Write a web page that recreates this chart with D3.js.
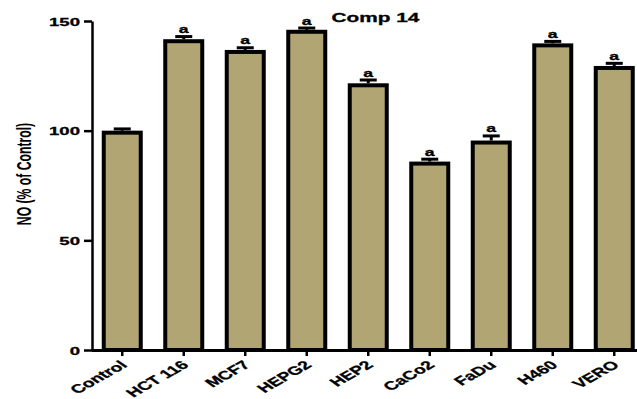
<!DOCTYPE html>
<html>
<head>
<meta charset="utf-8">
<script src="https://cdn.jsdelivr.net/npm/d3@7"></script>
<style>
  body { margin: 0; background: #fff; }
  svg { display: block; font-family: 'Liberation Sans', Arial, sans-serif; }
</style>
</head>
<body>
<script>
const categories = ['Control', 'HCT 116', 'MCF7', 'HEPG2', 'HEP2', 'CaCo2', 'FaDu', 'H460', 'VERO']
const values = [100, 141.7, 136.8, 146, 121.6, 85.9, 95.5, 139.8, 129.5]
const errors = [0.8, 1.2, 1, 0.8, 1.5, 1.1, 2.1, 0.9, 1.2]
const marks = ['', 'a', 'a', 'a', 'a', 'a', 'a', 'a', 'a']
const yTicks = [0, 50, 100, 150]

const width = 637, height = 399
const sx = 1.6  // the picture is stretched sideways, so is its text
const fill = '#b1a574'

const svg = d3.select('body')
  .append('svg')
  .attr('width', width)
  .attr('height', height)

const x = d3.scaleBand()
  .domain(categories)
  .range([91.5, 645])
  .paddingInner(1 / 3)
  .paddingOuter(1 / 6)

const y = d3.scaleLinear()
  .domain([0, 150])
  .range([350, 21])

const data = categories.map((c, i) => ({ c, v: values[i], e: errors[i], m: marks[i] }))

// bars
svg.append('g')
  .selectAll('rect').data(data).enter()
  .append('rect')
  .attr('x', d => x(d.c) + 2)
  .attr('y', d => y(d.v) + 2)
  .attr('width', x.bandwidth() - 4)
  .attr('height', d => y(0) - y(d.v) - 2)
  .attr('fill', fill)
  .attr('stroke', '#000')
  .attr('stroke-width', 4)

// error bars
const err = svg.append('g')
  .attr('stroke', '#000')
  .attr('stroke-width', 3)
  .selectAll('g').data(data).enter()
  .append('g')
  .attr('transform', d => `translate(${x(d.c) + x.bandwidth() / 2},0)`)

err.append('line')
  .attr('y1', d => y(d.v))
  .attr('y2', d => y(d.v + d.e))
err.append('line')
  .attr('x1', -8.5)
  .attr('x2', 8.5)
  .attr('y1', d => y(d.v + d.e))
  .attr('y2', d => y(d.v + d.e))

// significance letters
svg.append('g')
  .selectAll('text').data(data).enter()
  .append('text')
  .attr('transform', d => `translate(${x(d.c) + x.bandwidth() / 2},${y(d.v + d.e) - 3.5}) scale(${sx},1)`)
  .attr('text-anchor', 'middle')
  .attr('font-size', 11)
  .attr('font-weight', 'bold')
  .attr('stroke', '#000')
  .attr('stroke-width', 0.3)
  .text(d => d.m)

// y axis
const yAxis = svg.append('g')
  .attr('transform', `translate(92,0)`)
  .call(d3.axisLeft(y).tickValues(yTicks).tickSize(8).tickSizeOuter(0))
yAxis.select('.domain').attr('stroke-width', 2.5)
yAxis.selectAll('.tick line').attr('stroke-width', 2.5)
yAxis.selectAll('.tick text')
  .attr('x', null)
  .attr('dy', null)
  .attr('transform', `translate(-12,4.2) scale(${sx},1)`)
  .attr('font-size', 11.6)
  .attr('font-weight', 'bold')
  .attr('font-family', "'Liberation Sans', Arial, sans-serif")
  .attr('fill', '#000')
  .attr('stroke', '#000')
  .attr('stroke-width', 0.3)

// x axis
const xAxis = svg.append('g')
  .attr('transform', `translate(0,350)`)
  .call(d3.axisBottom(x).tickSize(6).tickSizeOuter(0))
xAxis.select('.domain').attr('stroke-width', 3)
xAxis.selectAll('.tick line').attr('stroke-width', 2.5)
xAxis.selectAll('.tick text')
  .attr('y', null)
  .attr('dy', null)
  .attr('text-anchor', 'end')
  .attr('transform', `translate(6,16) scale(${sx},1) rotate(-42)`)
  .attr('font-size', 12)
  .attr('font-weight', 'bold')
  .attr('font-family', "'Liberation Sans', Arial, sans-serif")
  .attr('fill', '#000')
  .attr('stroke', '#000')
  .attr('stroke-width', 0.3)

// y label
svg.append('text')
  .attr('transform', `translate(31,174) scale(${sx},1) rotate(-90)`)
  .attr('text-anchor', 'middle')
  .attr('font-size', 12.2)
  .attr('font-weight', 'bold')
  .text('NO (% of Control)')

// title
svg.append('text')
  .attr('transform', `translate(375.5,21.5) scale(${sx},1)`)
  .attr('text-anchor', 'middle')
  .attr('font-size', 13)
  .attr('font-weight', 'bold')
  .attr('stroke', '#000')
  .attr('stroke-width', 0.3)
  .text('Comp 14')
</script>
</body>
</html>
